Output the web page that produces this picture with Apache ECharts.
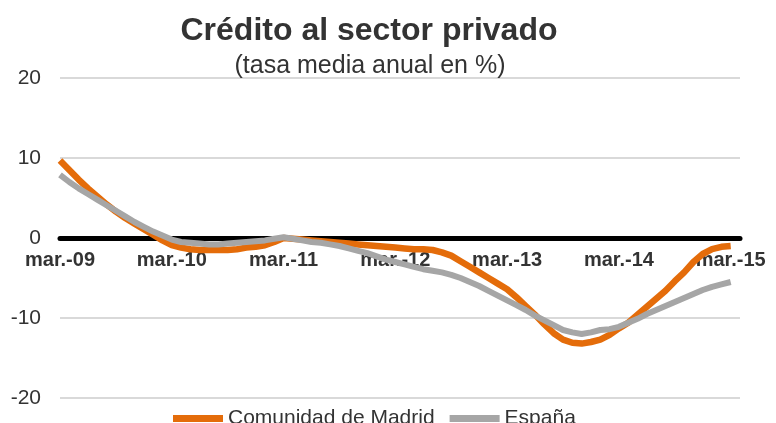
<!DOCTYPE html>
<html><head><meta charset="utf-8">
<script src="https://cdn.jsdelivr.net/npm/echarts@6/dist/echarts.min.js"></script>
<style>html,body{margin:0;padding:0;background:#fff}#c{width:776px;height:423px}</style>
</head><body><div id="c"></div>
<script>
// Months from mar.-09 to abr.-15 (last category left empty so the grid extends past the data)
const monthNames = ['ene.','feb.','mar.','abr.','may.','jun.','jul.','ago.','sep.','oct.','nov.','dic.'];
const categories = [];
for (let y = 9, m = 2; categories.length < 74; ) {
  categories.push(monthNames[m] + '-' + String(y).padStart(2,'0'));
  m++; if (m > 11) { m = 0; y++; }
}
const yTicks = [-20, -10, 0, 10, 20];

const madrid = [
  9.7, 8.5, 7.3, 6.2, 5.2, 4.2, 3.3, 2.5, 1.8, 1.1, 0.4, -0.3,
  -0.9, -1.2, -1.4, -1.5, -1.5, -1.5, -1.5, -1.4, -1.2, -1.1, -0.9, -0.5,
  0.0, -0.1, -0.2, -0.3, -0.4, -0.5, -0.6, -0.7, -0.8, -0.9, -1.0, -1.1,
  -1.2, -1.3, -1.4, -1.4, -1.5, -1.8, -2.2, -2.9, -3.6, -4.3, -5.0, -5.7,
  -6.4, -7.4, -8.5, -9.6, -10.8, -11.9, -12.7, -13.1, -13.2, -13.0, -12.7, -12.1,
  -11.3, -10.6, -9.6, -8.6, -7.6, -6.6, -5.4, -4.3, -3.0, -2.0, -1.4, -1.1,
  -1.0
];
const espana = [
  7.9, 7.0, 6.2, 5.5, 4.8, 4.1, 3.4, 2.7, 2.0, 1.4, 0.8, 0.3,
  -0.2, -0.5, -0.6, -0.7, -0.8, -0.8, -0.7, -0.6, -0.5, -0.4, -0.3, -0.1,
  0.1, -0.1, -0.3, -0.5, -0.6, -0.8, -1.0, -1.3, -1.6, -1.9, -2.3, -2.7,
  -3.0, -3.3, -3.6, -3.9, -4.1, -4.3, -4.6, -5.0, -5.5, -6.0, -6.6, -7.2,
  -7.8, -8.4, -9.0, -9.7, -10.3, -10.9, -11.5, -11.8, -12.0, -11.8, -11.5, -11.4,
  -11.1, -10.6, -10.1, -9.5, -9.0, -8.5, -8.0, -7.5, -7.0, -6.5, -6.1, -5.8,
  -5.5
];

const FONT = '"Liberation Sans", Arial, Helvetica, sans-serif';
const GRID_TOP = 78, GRID_BOTTOM = 25, H = 423;
const plotH = H - GRID_TOP - GRID_BOTTOM;
// distance from grid bottom up to the value 0 (axis sits on zero)
const zeroOffset = -plotH * (0 - yTicks[0]) / (yTicks[yTicks.length-1] - yTicks[0]);

const chart = echarts.init(document.getElementById('c'), null, {renderer: 'canvas'});
chart.setOption({
  animation: false,
  title: [
    {text: 'Crédito al sector privado', left: 364, top: 10, textAlign: 'center',
     textStyle: {fontFamily: FONT, fontSize: 32, fontWeight: 'bold', color: '#333'}},
    {text: '(tasa media anual en %)', left: 365, top: 49, textAlign: 'center',
     textStyle: {fontFamily: FONT, fontSize: 25, fontWeight: 'normal', color: '#333'}}
  ],
  grid: {left: 60, right: 36, top: GRID_TOP, bottom: GRID_BOTTOM, containLabel: false},
  legend: {
    left: 168, top: 403, itemWidth: 50, itemHeight: 7, itemGap: 15, icon: 'rect',
    textStyle: {fontFamily: FONT, fontSize: 21, color: '#333'},
    data: ['Comunidad de Madrid', 'España']
  },
  xAxis: {
    type: 'category', data: categories, boundaryGap: false,
    position: 'bottom', offset: zeroOffset,
    axisLine: {onZero: false, lineStyle: {color: '#000', width: 5}},
    axisTick: {show: false},
    axisLabel: {interval: 11, margin: 12, fontFamily: FONT, fontSize: 20, fontWeight: 'bold', color: '#333'},
    splitLine: {show: false}
  },
  yAxis: {
    type: 'value', min: yTicks[0], max: yTicks[yTicks.length-1], interval: 10,
    axisLine: {show: false}, axisTick: {show: false},
    axisLabel: {margin: 19, fontFamily: FONT, fontSize: 21, color: '#333'},
    splitLine: {lineStyle: {color: '#D9D9D9', width: 2}}
  },
  series: [
    {name: 'Comunidad de Madrid', type: 'line', data: madrid, showSymbol: false, smooth: false,
     lineStyle: {color: '#E46C0A', width: 6.5}, itemStyle: {color: '#E46C0A'}},
    {name: 'España', type: 'line', data: espana, showSymbol: false, smooth: false,
     lineStyle: {color: '#A6A6A6', width: 6}, itemStyle: {color: '#A6A6A6'}}
  ]
});
</script></body></html>
